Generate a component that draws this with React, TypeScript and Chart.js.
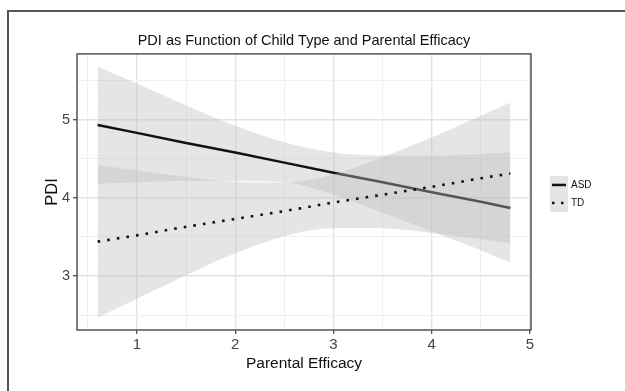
import React, { useEffect, useRef } from 'react';
import { Chart, registerables } from 'chart.js';

Chart.register(...registerables);

const TITLE = 'PDI as Function of Child Type and Parental Efficacy';
const X_TITLE = 'Parental Efficacy';
const Y_TITLE = 'PDI';
const seriesNames = ['ASD', 'TD'];

// Parental efficacy sample positions (x) for the fitted lines and their confidence bands
const efficacy = [0.6, 1.0, 1.5, 2.0, 2.5, 3.0, 3.5, 4.0, 4.5, 4.8];
const asdFit = [4.93, 4.83, 4.70, 4.58, 4.45, 4.32, 4.20, 4.07, 3.95, 3.87];
const asdUpper = [5.68, 5.46, 5.18, 4.92, 4.71, 4.58, 4.54, 4.54, 4.56, 4.58];
const asdLower = [4.18, 4.20, 4.215, 4.215, 4.20, 4.04, 3.81, 3.57, 3.33, 3.17];
const tdFit = [3.44, 3.52, 3.63, 3.73, 3.83, 3.94, 4.04, 4.14, 4.25, 4.31];
const tdUpper = [4.42, 4.35, 4.27, 4.205, 4.195, 4.30, 4.52, 4.77, 5.05, 5.22];
const tdLower = [2.47, 2.71, 3.01, 3.29, 3.51, 3.61, 3.61, 3.55, 3.47, 3.42];

const xMajorTicks = [1, 2, 3, 4, 5];
const xMinorTicks = [0.5, 1.5, 2.5, 3.5, 4.5];
const yMajorTicks = [3, 4, 5];
const yMinorTicks = [2.5, 3.5, 4.5, 5.5];
const xRange = [0.39, 5.01];
const yRange = [2.31, 5.84];

const FONT = "'Liberation Sans', Arial, Helvetica, sans-serif";
const BAND = 'rgba(190,190,190,0.4)';
const LINE = '#111111';

const pts = (ys: number[]) => efficacy.map((x, i) => ({ x, y: ys[i] }));
const isMajor = (v: number, majors: number[]) => majors.indexOf(v) >= 0;

const panelPlugin = {
  id: 'ggPanel',
  afterDatasetsDraw(chart: any) {
    const { ctx, chartArea: a } = chart;
    ctx.save();
    ctx.strokeStyle = '#484848';
    ctx.lineWidth = 1.4;
    ctx.strokeRect(a.left, a.top, a.right - a.left, a.bottom - a.top);
    ctx.restore();
  },
  afterDraw(chart: any) {
    const { ctx, chartArea: a } = chart;
    ctx.save();
    // outer frame (left + top)
    ctx.strokeStyle = '#555555';
    ctx.lineWidth = 2;
    ctx.beginPath();
    ctx.moveTo(8, chart.height);
    ctx.lineTo(8, 11);
    ctx.lineTo(chart.width, 11);
    ctx.stroke();

    // legend
    const kx = a.right + 19;
    const cy = (a.top + a.bottom) / 2 + 2;
    const ky = cy - 18;
    ctx.fillStyle = '#e4e4e4';
    ctx.fillRect(kx, ky, 18, 36);
    ctx.strokeStyle = LINE;
    ctx.lineWidth = 2.5;
    ctx.lineCap = 'butt';
    ctx.beginPath();
    ctx.moveTo(kx + 2, ky + 9);
    ctx.lineTo(kx + 16, ky + 9);
    ctx.stroke();
    ctx.setLineDash([2.5, 6.5]);
    ctx.beginPath();
    ctx.moveTo(kx + 2, ky + 27);
    ctx.lineTo(kx + 16, ky + 27);
    ctx.stroke();
    ctx.setLineDash([]);
    ctx.fillStyle = '#111111';
    ctx.font = `10px ${FONT}`;
    ctx.textBaseline = 'middle';
    ctx.textAlign = 'left';
    ctx.fillText(seriesNames[0], kx + 21, ky + 9);
    ctx.fillText(seriesNames[1], kx + 21, ky + 27);
    ctx.restore();
  },
};

export default function App() {
  const ref = useRef<HTMLCanvasElement | null>(null);

  useEffect(() => {
    if (!ref.current) return;
    const chart = new Chart(ref.current, {
      type: 'line',
      data: {
        datasets: [
          {
            label: 'ASD lower',
            data: pts(asdLower),
            borderColor: 'transparent',
            pointRadius: 0,
            fill: false,
            cubicInterpolationMode: 'monotone',
            order: 7,
          },
          {
            label: 'ASD upper',
            data: pts(asdUpper),
            borderColor: 'transparent',
            backgroundColor: BAND,
            pointRadius: 0,
            fill: '-1',
            cubicInterpolationMode: 'monotone',
            order: 6,
          },
          {
            label: seriesNames[0],
            data: pts(asdFit),
            borderColor: LINE,
            borderWidth: 2.5,
            pointRadius: 0,
            fill: false,
            tension: 0,
            order: 5,
          },
          {
            label: 'TD lower',
            data: pts(tdLower),
            borderColor: 'transparent',
            pointRadius: 0,
            fill: false,
            cubicInterpolationMode: 'monotone',
            order: 4,
          },
          {
            label: 'TD upper',
            data: pts(tdUpper),
            borderColor: 'transparent',
            backgroundColor: BAND,
            pointRadius: 0,
            fill: '-1',
            cubicInterpolationMode: 'monotone',
            order: 3,
          },
          {
            label: seriesNames[1],
            data: pts(tdFit),
            borderColor: LINE,
            borderWidth: 2.6,
            borderDash: [2.6, 7.1],
            borderCapStyle: 'butt',
            pointRadius: 0,
            fill: false,
            tension: 0,
            order: 2,
          },
        ],
      },
      options: {
        responsive: false,
        animation: false,
        devicePixelRatio: 1,
        events: [],
        layout: { padding: { left: 0, right: 94, top: 0, bottom: 0 } },
        plugins: {
          legend: { display: false },
          tooltip: { enabled: false },
          title: {
            display: true,
            fullSize: false,
            text: TITLE,
            color: '#111111',
            font: { family: FONT, size: 14.5, weight: 'normal' },
            padding: { top: 32.5, bottom: 4 },
          },
        },
        scales: {
          x: {
            type: 'linear',
            min: xRange[0],
            max: xRange[1],
            afterBuildTicks: (axis: any) => {
              axis.ticks = [...xMinorTicks, ...xMajorTicks]
                .sort((p, q) => p - q)
                .map((v) => ({ value: v }));
            },
            afterFit: (scale: any) => {
              scale.height = 61;
            },
            ticks: {
              autoSkip: false,
              maxRotation: 0,
              padding: 1.5,
              color: '#444444',
              font: { family: FONT, size: 15 },
              callback: (v: any) => (isMajor(Number(v), xMajorTicks) ? String(v) : ''),
            },
            grid: {
              color: (c: any) => (c.tick && isMajor(c.tick.value, xMajorTicks) ? '#e3e3e3' : '#efefef'),
              lineWidth: (c: any) => (c.tick && isMajor(c.tick.value, xMajorTicks) ? 1.4 : 1),
              tickColor: (c: any) => (c.tick && isMajor(c.tick.value, xMajorTicks) ? '#444444' : 'rgba(0,0,0,0)'),
              tickLength: 4,
              tickWidth: 1.2,
            },
            border: { display: false },
            title: {
              display: true,
              text: X_TITLE,
              color: '#111111',
              font: { family: FONT, size: 15.5 },
              padding: { top: 0, bottom: 18 },
            },
          },
          y: {
            type: 'linear',
            min: yRange[0],
            max: yRange[1],
            afterBuildTicks: (axis: any) => {
              axis.ticks = [...yMinorTicks, ...yMajorTicks]
                .sort((p, q) => p - q)
                .map((v) => ({ value: v }));
            },
            afterFit: (scale: any) => {
              scale.width = 77;
            },
            ticks: {
              autoSkip: false,
              padding: 3,
              color: '#444444',
              font: { family: FONT, size: 14.5 },
              callback: (v: any) => (isMajor(Number(v), yMajorTicks) ? String(v) : ''),
            },
            grid: {
              color: (c: any) => (c.tick && isMajor(c.tick.value, yMajorTicks) ? '#e3e3e3' : '#efefef'),
              lineWidth: (c: any) => (c.tick && isMajor(c.tick.value, yMajorTicks) ? 1.4 : 1),
              tickColor: (c: any) => (c.tick && isMajor(c.tick.value, yMajorTicks) ? '#444444' : 'rgba(0,0,0,0)'),
              tickLength: 4,
              tickWidth: 1.2,
            },
            border: { display: false },
            title: {
              display: true,
              text: Y_TITLE,
              color: '#111111',
              font: { family: FONT, size: 16.5 },
              padding: { top: 43, bottom: 0 },
            },
          },
        },
      },
      plugins: [panelPlugin],
    } as any);
    return () => chart.destroy();
  }, []);

  return (
    <div style={{ position: 'absolute', left: 0, top: 0, width: 625, height: 391, background: '#ffffff' }}>
      <canvas ref={ref} width={625} height={391} style={{ display: 'block', width: 625, height: 391 }} />
    </div>
  );
}
